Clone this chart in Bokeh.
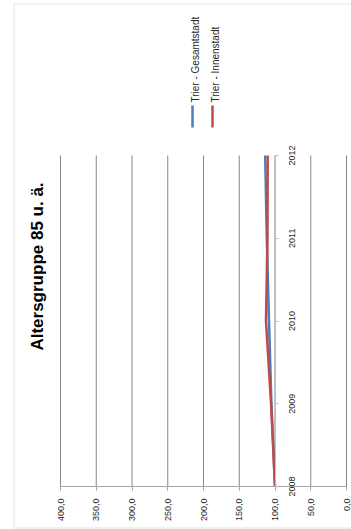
import math
from bokeh.plotting import figure
from bokeh.models import (Range1d, LinearAxis, FixedTicker, Label, Arrow,
                          BoxAnnotation)
from bokeh.core.properties import value
from bokeh.embed import file_html
from bokeh.resources import INLINE

# ---- data ----
years = [2008, 2009, 2010, 2011, 2012]
gesamt = [100.0, 105.0, 108.4, 111.5, 113.7]
innen = [100.0, 105.5, 112.6, 110.5, 110.2]
value_ticks = [0, 50, 100, 150, 200, 250, 300, 350, 400]
value_labels = ["0,0", "50,0", "100,0", "150,0", "200,0", "250,0", "300,0", "350,0", "400,0"]
year_labels = ["2008", "2009", "2010", "2011", "2012"]
series_names = ["Trier - Gesamtstadt", "Trier - Innenstadt"]
title_text = "Altersgruppe 85 u. ä."
axis_cross = 100

BLUE = "#4a7ebb"
RED = "#be4b48"
FONT = "Liberation Sans"

# ---- layout (pixel geometry of the rotated chart) ----
W, H = 351, 529
PX_VMAX, PX_VMIN = 60, 346      # screen x of value 400 and value 0
PY_Y0, PY_Y1 = 486, 155         # screen y of first and last year
vmin, vmax = value_ticks[0], value_ticks[-1]
kx = (PX_VMIN - PX_VMAX) / (vmax - vmin)
ky = (PY_Y0 - PY_Y1) / (years[-1] - years[0])


def px_to_val(px):
    return vmin + (PX_VMIN - px) / kx


def py_to_year(py):
    return years[0] + (PY_Y0 - py) / ky


p = figure(width=W, height=H, output_backend="svg", toolbar_location=None,
           x_axis_type=None, y_axis_type=None,
           x_range=Range1d(px_to_val(0), px_to_val(W)),
           y_range=Range1d(py_to_year(H), py_to_year(0)),
           min_border=0)
p.outline_line_color = None
p.background_fill_color = "white"
p.border_fill_color = "white"

# value gridlines (vertical in the rotated layout), spanning the category extent
p.segment(x0=value_ticks, y0=[years[0]] * len(value_ticks),
          x1=value_ticks, y1=[years[-1]] * len(value_ticks),
          line_color="#868686", line_width=1)

# value axis (at the first category)
vax = LinearAxis(ticker=FixedTicker(ticks=value_ticks), fixed_location=years[0],
                 bounds=(vmin, vmax),
                 major_label_overrides={v: s for v, s in zip(value_ticks, value_labels)},
                 major_label_orientation=math.pi / 2,
                 axis_line_color="#a6a6a6", major_tick_line_color="#a6a6a6",
                 major_tick_out=4, major_tick_in=0, minor_tick_line_color=None,
                 major_label_standoff=8,
                 major_label_text_font=FONT, major_label_text_font_size="9px",
                 major_label_text_color="#262626")
p.add_layout(vax, "below")

# category axis crossing at 100 (line + ticks; labels drawn centred below)
yax = LinearAxis(ticker=FixedTicker(ticks=years), fixed_location=axis_cross,
                 bounds=(years[0], years[-1]),
                 axis_line_color="#bfbfbf", major_tick_line_color="#bfbfbf",
                 major_tick_out=3, major_tick_in=0, minor_tick_line_color=None,
                 major_label_text_color=None)
p.add_layout(yax, "right")

# category labels, centred on their ticks
p.text(x=[px_to_val(291)] * len(years), y=years, text=year_labels, angle=math.pi / 2,
       text_align="center", text_baseline="middle",
       text_font=value(FONT), text_font_size="9px", text_color="#262626")

# data lines
p.line(x=gesamt, y=years, line_color=BLUE, line_width=2.5)
p.line(x=innen, y=years, line_color=RED, line_width=2.5)

# title (rotated)
p.add_layout(Label(x=px_to_val(37), y=py_to_year(266), text=title_text, angle=math.pi / 2,
                   text_align="center", text_baseline="middle",
                   text_font=FONT, text_font_style="bold", text_font_size="17px",
                   text_color="#000000"))

# legend (rotated)
for name, color, lpx, tpx in [(series_names[0], BLUE, 192, 194.5),
                              (series_names[1], RED, 212, 214.5)]:
    p.add_layout(Arrow(x_start=px_to_val(lpx), y_start=py_to_year(127),
                       x_end=px_to_val(lpx), y_end=py_to_year(105),
                       start=None, end=None, line_color=color, line_width=2.5))
    p.add_layout(Label(x=px_to_val(tpx), y=py_to_year(102), text=name, angle=math.pi / 2,
                       text_align="left", text_baseline="middle",
                       text_font=FONT, text_font_size="10px", text_color="#262626"))

# outer chart border
p.add_layout(BoxAnnotation(left=13.5, right=W + 20, top=3.5, bottom=527.5,
                           left_units="canvas", right_units="canvas",
                           top_units="canvas", bottom_units="canvas",
                           fill_color=None, line_color="#a0a0a0", line_width=1))

open("out.html", "w").write(file_html(p, INLINE))
